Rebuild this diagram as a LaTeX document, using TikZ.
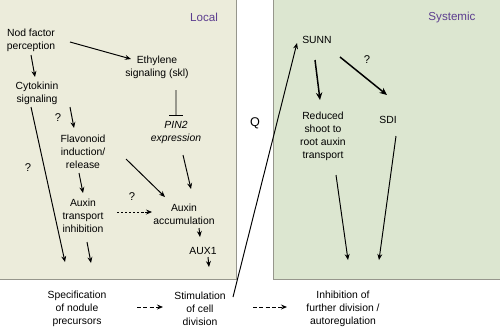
\documentclass[tikz,border=0pt]{standalone}
\usepackage{fontspec}
\setmainfont{Liberation Sans}
\usetikzlibrary{arrows.meta,positioning,calc}

\definecolor{localbg}{RGB}{236,236,219}
\definecolor{systbg}{RGB}{220,230,208}
\definecolor{panelline}{RGB}{150,150,140}
\definecolor{paneltitle}{RGB}{92,61,143}

\begin{document}
\begin{tikzpicture}[>={Stealth[length=3.4pt,width=2.8pt]}, line width=0.55pt,
    every node/.style={font=\fontsize{5.9}{7.4}\selectfont, align=center, inner sep=0pt},
    title/.style={text=paneltitle, font=\fontsize{6.6}{8}\selectfont},
    ask/.style={font=\fontsize{6.4}{8}\selectfont},
    thick arrow/.style={->, line width=0.85pt, >={Stealth[length=4.2pt,width=3.6pt]}},
    flow/.style={->, dash pattern=on 2.2pt off 1.4pt, line width=0.55pt}]
            \useasboundingbox (0,0) rectangle (10,-6.54);
            % panels
            \fill[localbg, draw=panelline] (-0.1,0.02) rectangle (4.73,-5.58);
            \fill[systbg, draw=panelline] (5.46,0.02) rectangle (10.1,-5.58);
            \node[title] (local) at (4.08,-0.34) {Local};
            \node[title] (systemic) at (9.04,-0.34) {Systemic};

            % local part
            \node (nod) at (0.62,-0.81) {Nod factor\\perception};
            \node (eth) at (3.14,-1.34) {Ethylene\\signaling (skl)};
            \node (cyto) at (0.74,-1.86) {Cytokinin\\signaling};
            \node (flav) at (1.66,-3.04) {Flavonoid\\induction/\\release};
            \node[font=\fontsize{5.9}{7.4}\selectfont\itshape] (pin) at (3.52,-2.64) {PIN2\\expression};
            \node (atinh) at (1.66,-4.32) {Auxin\\transport\\inhibition};
            \node (acc) at (3.68,-4.28) {Auxin\\accumulation};
            \node (aux) at (4.06,-5.02) {AUX1};
            \node[ask] (qflav) at (1.16,-2.36) {?};
            \node[ask] (qspec) at (0.56,-3.36) {?};
            \node[ask] (qacc) at (2.64,-3.94) {?};

            % bottom row
            \node (spec) at (1.54,-6.18) {Specification\\of nodule\\precursors};
            \node (stim) at (4.0,-6.18) {Stimulation\\of cell\\division};
            \node (inh) at (6.86,-6.18) {Inhibition of\\further division /\\autoregulation};

            % systemic part
            \node[font=\fontsize{7.2}{8}\selectfont] (q) at (5.1,-2.46) {Q};
            \node (sunn) at (6.34,-0.8) {SUNN};
            \node (red) at (6.46,-2.72) {Reduced\\shoot to\\root auxin\\transport};
            \node (sdi) at (7.76,-2.4) {SDI};
            \node[ask] (qsdi) at (7.34,-1.2) {?};

            \draw[->] ([shift={(0.78,-0.03)}]nod.center) -- ([shift={(-0.52,0.16)}]eth.center);
            \draw[->] ([shift={(0,-0.29)}]nod.center) -- ([shift={(-0.04,0.32)}]cyto.center);
            \draw[-{Bar[width=7.5pt]}] ([shift={(0.38,-0.46)}]eth.center) -- ([shift={(0,0.32)}]pin.center);
            \draw[->] ([shift={(-0.12,-0.28)}]cyto.center) -- ([shift={(-0.24,0.94)}]spec.center);
            \draw[->] ([shift={(0.66,-0.28)}]cyto.center) -- ([shift={(-0.18,0.48)}]flav.center);
            \draw[->] ([shift={(0.86,-0.14)}]flav.center) -- ([shift={(-0.38,0.34)}]acc.center);
            \draw[->] ([shift={(0.14,-0.46)}]pin.center) -- ([shift={(0.14,0.5)}]acc.center);
            \draw[->] ([shift={(-0.08,-0.42)}]flav.center) -- ([shift={(0,0.46)}]atinh.center);
            \draw[->, line width=0.45pt, dash pattern=on 1.3pt off 1pt] ([shift={(0.68,0.08)}]atinh.center) -- ([shift={(-0.64,0.04)}]acc.center);
            \draw[->] ([shift={(0.08,-0.52)}]atinh.center) -- ([shift={(0.28,0.92)}]spec.center);
            \draw[->] ([shift={(0.3,-0.28)}]acc.center) -- ([shift={(-0.06,0.28)}]aux.center);
            \draw[->] ([shift={(0.1,-0.12)}]aux.center) -- ([shift={(0.18,0.84)}]stim.center);
            \draw[flow] ([shift={(1.2,0.04)}]spec.center) -- ([shift={(-0.74,0.04)}]stim.center);
            \draw[->] ([shift={(0.66,0.24)}]stim.center) -- ([shift={(-0.4,-0.06)}]sunn.center);
            \draw[flow] ([shift={(1.06,0.04)}]stim.center) -- ([shift={(-1.12,0.04)}]inh.center);
            \draw[thick arrow] ([shift={(-0.04,-0.4)}]sunn.center) -- ([shift={(-0.06,0.72)}]red.center);
            \draw[thick arrow] ([shift={(0.46,-0.34)}]sunn.center) -- ([shift={(-0.02,0.5)}]sdi.center);
            \draw[->] ([shift={(0.26,-0.78)}]red.center) -- ([shift={(0.1,0.98)}]inh.center);
            \draw[->] ([shift={(0.16,-0.32)}]sdi.center) -- ([shift={(0.72,0.98)}]inh.center);
        \end{tikzpicture}
\end{document}
